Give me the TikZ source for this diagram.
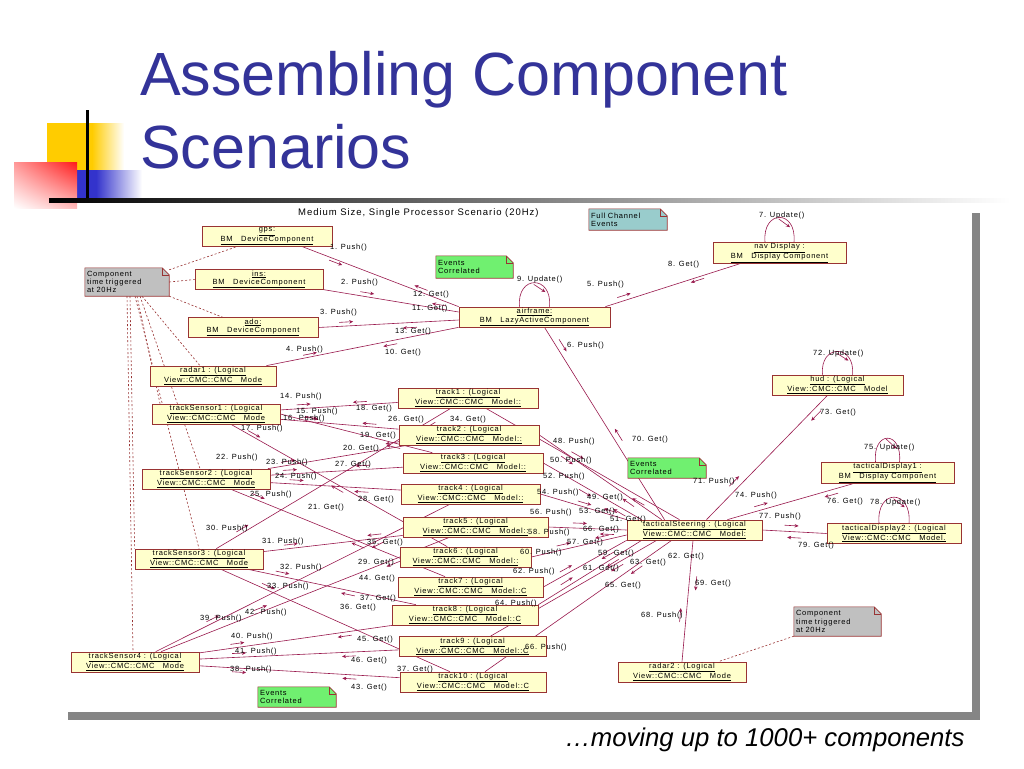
\documentclass[tikz,border=0pt]{standalone}
\usepackage{fontspec}
\setmainfont{Liberation Sans}
\newfontfamily\umlfont[LetterSpace=10]{Liberation Sans}
\usetikzlibrary{arrows.meta,decorations.markings,shadings}
\pgfdeclarelayer{paper}
\pgfdeclarelayer{back}
\pgfdeclarelayer{mid}
\pgfsetlayers{paper,back,mid,main}
\definecolor{titlec}{HTML}{333399}
\definecolor{linkc}{HTML}{99194D}
\definecolor{boxc}{HTML}{993333}
\definecolor{boxfill}{HTML}{FFFFCC}
\definecolor{notegray}{HTML}{C0C0C0}
\definecolor{noteteal}{HTML}{99CCCC}
\definecolor{notegreen}{HTML}{70F070}
\definecolor{decoyellow}{HTML}{FFCC00}
\definecolor{decoblue}{HTML}{3333CC}
\definecolor{decored}{HTML}{FF1A1A}
\definecolor{framegray}{HTML}{858585}
\newcommand\umltext[2]{\underline{#1}\\\underline{#2}}
% note outline with folded corner
\newcommand\dogear[2]{%
  \filldraw[draw=boxc,fill=#2,line width=0.6pt] (#1.south west) -- (#1.north west) -- ([xshift=-7pt]#1.north east) -- ([yshift=-7pt]#1.north east) -- (#1.south east) -- cycle;
  \draw[boxc,line width=0.5pt] ([xshift=-7pt]#1.north east) |- ([yshift=-7pt]#1.north east);}
\tikzset{
  cls/.style={draw=boxc,fill=boxfill,line width=0.7pt,minimum height=20,inner sep=1pt,align=center,
    font=\umlfont\fontsize{7.5}{8.5}\selectfont},
  note/.style={inner sep=2pt,text width=#1,align=left,font=\umlfont\fontsize{7.5}{8.2}\selectfont},
  lbl/.style={anchor=west,inner sep=0pt,font=\umlfont\fontsize{7.5}{8}\selectfont},
  link/.style={draw=linkc,line width=0.6pt},
  notelink/.style={draw=boxc,line width=0.6pt,dash pattern=on 2pt off 2pt},
  msgtip/.style={draw=linkc,line width=0.6pt,-{Stealth[length=4pt,width=3.5pt]}},
  fw/.style 2 args={postaction={decorate,decoration={markings,
    mark=at position #1 with {\draw[msgtip] (-7pt,#2) -- (7pt,#2);}}}},
  bw/.style 2 args={postaction={decorate,decoration={markings,
    mark=at position #1 with {\draw[msgtip] (7pt,#2) -- (-7pt,#2);}}}},
}
\begin{document}
\begin{tikzpicture}[x=1pt,y=-1pt]
\useasboundingbox (0,0) rectangle (1024,768);
\begin{pgfonlayer}{paper}
\fill[white] (0,0) rectangle (1024,768);
\end{pgfonlayer}
% slide decoration
\fill[decoyellow] (47,123) rectangle (92,170);
\shade[left color=decoyellow,right color=white] (92,123) rectangle (124,170);
\fill[decoblue] (77,170) rectangle (96,200);
\shade[left color=decoblue,right color=white] (96,170) rectangle (142,200);
\shade[upper left=decored!45,upper right=decored,lower left=white,lower right=decored!30] (14,162) rectangle (77,208);
\fill[black] (86,110) rectangle (89,200);
\shade[left color=black,right color=white] (49,198) rectangle (1010,202.5);
\node[anchor=base west,inner sep=0pt,text=titlec,font=\fontsize{61}{61}\selectfont] (title1) at (140,95) {Assembling Component};
\node[anchor=base west,inner sep=0pt,text=titlec,font=\fontsize{61}{61}\selectfont] (title2) at (140,168) {Scenarios};
\node[anchor=base west,inner sep=0pt,font=\itshape\fontsize{25.7}{26}\selectfont] (moving) at (565,746) {…moving up to 1000+ components};
% diagram frame
\fill[framegray] (68,712) rectangle (980,720);
\fill[framegray] (972,213) rectangle (980,720);
\node[lbl,font=\umlfont\fontsize{9.5}{10}\selectfont] (scen) at (298,213) {Medium Size, Single Processor Scenario (20Hz)};
% components
\node[cls,minimum width=130,minimum height=19] (gps) at (267,236.5) {\umltext{gps:}{BM\ \ \ DeviceComponent}};
\node[cls,minimum width=128,minimum height=19] (ins) at (259,279.5) {\umltext{ins:}{BM\ \ \ DeviceComponent}};
\node[cls,minimum width=130,minimum height=19] (ado) at (253,327.5) {\umltext{ado:}{BM\ \ \ DeviceComponent}};
\node[cls,minimum width=151] (airframe) at (534.5,317) {\umltext{airframe:}{BM\ \ \ LazyActiveComponent}};
\node[cls,minimum width=133] (navdisp) at (779.5,253) {\umltext{nav Display :}{BM\ \ \ Display Component}};
\node[cls,minimum width=126] (radar1) at (213,376) {\umltext{radar1 : (Logical}{View::CMC::CMC\ \ \ Mode}};
\node[cls,minimum width=128] (ts1) at (216,414) {\umltext{trackSensor1 : (Logical}{View::CMC::CMC\ \ \ Mode}};
\node[cls,minimum width=128] (ts2) at (206,479) {\umltext{trackSensor2 : (Logical}{View::CMC::CMC\ \ \ Mode}};
\node[cls,minimum width=128] (ts3) at (199,559) {\umltext{trackSensor3 : (Logical}{View::CMC::CMC\ \ \ Mode}};
\node[cls,minimum width=128] (ts4) at (135,662) {\umltext{trackSensor4 : (Logical}{View::CMC::CMC\ \ \ Mode}};
\foreach \n/\x/\y/\w/\m in {1/468/398/140/Model::,2/469/435/140/Model::,3/473/463/140/Model::,
  4/470.5/494/139/Model::,5/475.5/527/145/Model::,6/465.5/557/131/Model::,7/470.5/587/145/Model::C,
  8/465/615/146/Model::C,9/472.5/646.5/147/Model::C,10/473/682/146/Model::C}
  \node[cls,minimum width=\w] (track\n) at (\x,\y) {\umltext{track\n\ : (Logical}{View::CMC::CMC\ \ \ \m}};
\node[cls,minimum width=135] (steer) at (694.5,530) {\umltext{tacticalSteering : (Logical}{View::CMC::CMC\ \ \ Model:}};
\node[cls,minimum width=131] (hud) at (837.5,385) {\umltext{hud : (Logical}{View::CMC::CMC\ \ \ Model}};
\node[cls,minimum width=133] (tdisp1) at (887.5,473) {\umltext{tacticalDisplay1 :}{BM\ \ \ Display Component}};
\node[cls,minimum width=134,minimum height=19] (tdisp2) at (894,533.5) {\umltext{tacticalDisplay2 : (Logical}{View::CMC::CMC\ \ \ Model.}};
\node[cls,minimum width=128] (radar2) at (682,672) {\umltext{radar2 : (Logical}{View::CMC::CMC\ \ \ Mode}};
% notes
\node[note=80,minimum height=28] (trig1) at (127,282) {Component\\time triggered\\at 20Hz};
\node[note=83,minimum height=29] (trig2) at (837.5,621.5) {Component\\time triggered\\at 20Hz};
\node[note=74,minimum height=21] (fullch) at (628,219.5) {Full Channel\\Events};
\node[note=73,minimum height=22] (corr1) at (474.5,267) {Events\\Correlated};
\node[note=74,minimum height=20] (corr2) at (667,468) {Events\\Correlated};
\node[note=74,minimum height=20] (corr3) at (297,697) {Events\\Correlated};
\begin{pgfonlayer}{mid}
\foreach \n/\c in {trig1/notegray,trig2/notegray,fullch/noteteal,corr1/notegreen,corr2/notegreen,corr3/notegreen}
  \dogear{\n}{\c};
\end{pgfonlayer}
\begin{pgfonlayer}{back}
% time trigger notes
\draw[notelink] ([yshift=-2pt]trig1.north east) -- ([xshift=-30pt]gps.south);
\draw[notelink] (trig1.east) -- (ins.west);
\draw[notelink] (trig1.south east) -- ([xshift=-30pt]ado.north);
\draw[notelink] ([xshift=15pt]trig1.south) -- ([xshift=-13pt]radar1.north);
\draw[notelink] ([xshift=10pt]trig1.south) -- ([xshift=-56pt]ts1.north);
\draw[notelink] ([xshift=13pt]trig1.south) -- ([xshift=-6pt]ts2.north);
\draw[notelink] ([xshift=8pt]trig1.south) -- (ts3.north);
\draw[notelink] ([xshift=3pt]trig1.south) -- (ts3.north west);
\draw[notelink] (trig1.south) -- ([xshift=-2pt]ts4.north);
\draw[notelink] (trig2.south west) -- ([xshift=-28pt]radar2.north east);
% devices and airframe
\draw[link,fw={0.22}{-3pt},bw={0.75}{4pt}] ([xshift=-30pt]gps.south east) -- (airframe.north west);
\draw[link,fw={0.32}{4pt},bw={0.85}{4pt}] (ins.south east) -- ([yshift=5pt]airframe.west);
\draw[link,fw={0.2}{4pt},bw={0.65}{-5pt}] (ado.east) -- ([yshift=-3pt]airframe.west);
\draw[link,fw={0.23}{3pt},bw={0.64}{-4pt}] ([xshift=-10pt]radar1.north east) -- (airframe.south west);
\draw[link,fw={0.15}{5pt},bw={0.68}{-3pt}] ([xshift=-5pt]airframe.north east) -- ([xshift=-40pt]navdisp.south);
\draw[link,fw={0.11}{6pt},bw={0.575}{6pt}] ([xshift=10pt]airframe.south) -- ([xshift=-30pt]steer.north);
% self updates
\draw[link,fw={0.62}{-4pt}] ([xshift=-15pt]airframe.north) .. controls +(-3,-32) and +(3,-32) .. ([xshift=15pt]airframe.north);
\draw[link,fw={0.62}{-4pt}] ([xshift=-14.5pt]navdisp.north) .. controls +(-3,-33) and +(3,-33) .. ([xshift=14.5pt]navdisp.north);
\draw[link,fw={0.62}{-4pt}] ([xshift=-15pt]hud.north) .. controls +(-3,-31) and +(3,-31) .. ([xshift=15pt]hud.north);
\draw[link,fw={0.62}{-4pt}] ([xshift=-12pt]tdisp1.north) .. controls +(-3,-32) and +(3,-32) .. ([xshift=12pt]tdisp1.north);
\draw[link,fw={0.62}{-4pt}] ([xshift=-15pt]tdisp2.north) .. controls +(-3,-35) and +(3,-35) .. ([xshift=15pt]tdisp2.north);
% steering to displays and radar2
\draw[link,fw={0.27}{7pt},bw={0.87}{-6pt}] ([xshift=12pt]steer.north) -- ([xshift=-10pt]hud.south);
\draw[link,fw={0.28}{5pt},bw={0.82}{-5pt}] ([xshift=-35pt]steer.north east) -- ([xshift=-35pt]tdisp1.south);
\draw[link,fw={0.45}{6pt},bw={0.5}{-6pt}] (steer.east) -- (tdisp2.west);
\draw[link,fw={0.38}{6pt},bw={0.65}{-7pt}] (radar2.north) -- ([xshift=-1.5pt]steer.south);
% tracks to steering
\draw[link,fw={0.46}{5pt},bw={0.8}{-5pt}] (track1) -- ([xshift=-15pt]steer.north);
\draw[link,fw={0.25}{-5pt},bw={0.75}{-5pt}] (track2.east) -- ([xshift=35pt]steer.north west);
\draw[link,fw={0.45}{-5pt},bw={0.8}{-5pt}] (track3.east) -- ([xshift=15pt]steer.north west);
\draw[link,fw={0.5}{4pt},bw={0.8}{4pt}] (track4.east) -- (steer.north west);
\draw[link,fw={0.4}{5pt},bw={0.75}{-5pt}] (track5.east) -- (steer.west);
\draw[link,fw={0.35}{5pt},bw={0.75}{4pt}] (track6.east) -- ([yshift=-5pt]steer.west);
\draw[link,fw={0.3}{5pt},bw={0.75}{-4pt}] (track7.east) -- (steer.south west);
\draw[link,fw={0.3}{5pt},bw={0.7}{-4pt}] (track8.north east) -- ([xshift=15pt]steer.south west);
\draw[link,fw={0.2}{5pt},bw={0.75}{-4pt}] ([xshift=18pt]track9.north) -- ([xshift=30pt]steer.south west);
\draw[link,fw={0.25}{-5pt},bw={0.8}{-4pt}] ([xshift=12pt]track10.north) -- ([xshift=45pt]steer.south west);
% sensors to tracks
\draw[link,fw={0.2}{4pt},bw={0.68}{3pt}] (ts1) -- (track1);
\draw[link,fw={0.25}{4pt},bw={0.75}{3pt}] (ts1) -- (track2);
\draw[link,fw={0.2}{4pt},bw={0.75}{-4pt}] (ts1.east) -- (track3);
\draw[link,fw={0.1}{3pt},bw={0.5}{-4pt}] ([xshift=15pt]ts1.south) -- (track6);
\draw[link,fw={0.15}{4pt},bw={0.9}{5pt}] (ts2) -- (track2);
\draw[link,fw={0.15}{4pt},bw={0.7}{4pt}] (ts2) -- (track3);
\draw[link,fw={0.2}{4pt},bw={0.7}{-4pt}] (ts2) -- (track4);
\draw[link,fw={0.12}{4pt},bw={0.6}{-4pt}] ([xshift=25pt]ts2.south) -- (track7);
\draw[link,fw={0.12}{4pt},bw={0.9}{-4pt}] (ts3) -- (track1);
\draw[link,fw={0.2}{4pt},bw={0.8}{4pt}] (ts3) -- (track5);
\draw[link,fw={0.2}{4pt},bw={0.6}{-4pt}] (ts3) -- (track8);
\draw[link,fw={0.2}{4pt},bw={0.8}{4pt}] ([xshift=22pt]ts3.south) -- (track10);
\draw[link,fw={0.2}{4pt},bw={0.75}{-4pt}] (ts4) -- (track4);
\draw[link,fw={0.35}{4pt},bw={0.8}{-4pt}] (ts4) -- (track5);
\draw[link,fw={0.2}{4pt},bw={0.75}{-4pt}] (ts4) -- (track8);
\draw[link,fw={0.2}{4pt},bw={0.75}{-4pt}] (ts4) -- (track9);
\draw[link,fw={0.2}{-4pt},bw={0.75}{-4pt}] (ts4) -- (track10);
\end{pgfonlayer}
% message labels
\foreach \x/\y/\t [count=\i] in {330/248/1. Push(),341/283/2. Push(),320/313/3. Push(),286/350/4. Push(),
  587/285/5. Push(),567/346/6. Push(),759/216/7. Update(),668/265/8. Get(),517/280/9. Update(),
  385/353/10. Get(),412/309/11. Get(),413/295/12. Get(),395/332/13. Get(),280/397/14. Push(),
  296/412/15. Push(),283/419/16. Push(),241/429/17. Push(),356/409/18. Get(),360/436/19. Get(),
  343/449/20. Get(),308/508/21. Get(),216/458/22. Push(),266/463/23. Push(),275/477/24. Push(),
  250/495/25. Push(),388/420/26. Get(),335/465/27. Get(),358/500/28. Get(),358/563/29. Get(),
  206/529/30. Push(),262/542/31. Push(),280/568/32. Push(),267/587/33. Push(),450/420/34. Get(),
  367/543/35. Get(),340/608/36. Get(),360/599/37. Get(),397/670/37. Get(),230/670/38. Push(),
  200/619/39. Push(),231/637/40. Push(),235/652/41. Push(),245/613/42. Push(),351/688/43. Get(),
  359/579/44. Get(),357/640/45. Get(),351/661/46. Get(),553/442/48. Push(),587/498/49. Get(),
  550/461/50. Push(),610/520/51. Get(),543/477/52. Push(),579/512/53. Get(),537/493/54. Push(),
  530/513/56. Push(),567/543/57. Get(),528/533/58. Push(),598/554/59. Get(),520/553/60. Push(),
  583/569/61. Get(),513/572/62. Push(),668/557/62. Get(),630/563/63. Get(),495/604/64. Push(),
  605/586/65. Get(),525/648/66. Push(),583/530/66. Get(),641/616/68. Push(),695/584/69. Get(),
  632/440/70. Get(),693/482/71. Push(),813/354/72. Update(),820/413/73. Get(),735/496/74. Push(),
  864/448/75. Update(),827/502/76. Get(),870/503/78. Update(),759/517/77. Push(),798/546/79. Get()}
  \node[lbl] (msg\i) at (\x,\y) {\t};
\end{tikzpicture}
\end{document}
